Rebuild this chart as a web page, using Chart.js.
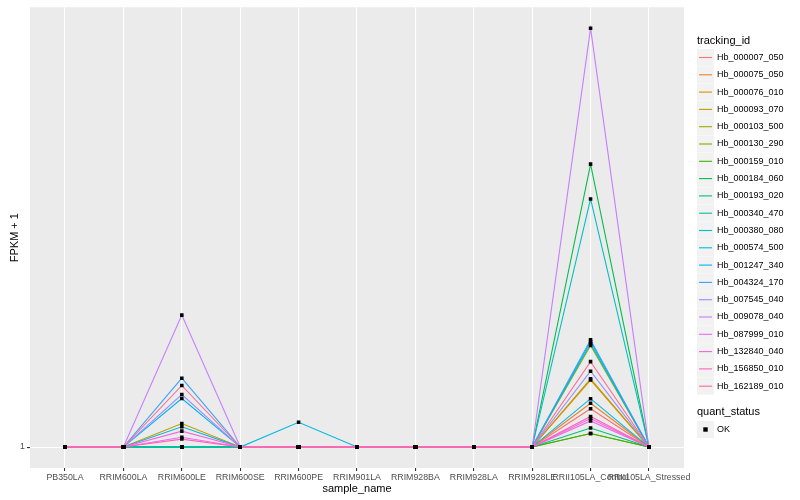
<!DOCTYPE html>
<html>
<head>
<meta charset="utf-8">
<script src="https://cdn.jsdelivr.net/npm/chart.js@4"></script>
<style>
  html, body { margin: 0; padding: 0; background: #fff; }
  #wrap { width: 800px; height: 500px; }
</style>
</head>
<body>
<div id="wrap"><canvas id="chart"></canvas></div>
<script>
// categorias do eixo x
const sampleNames = ["PB350LA", "RRIM600LA", "RRIM600LE", "RRIM600SE", "RRIM600PE", "RRIM901LA",
  "RRIM928BA", "RRIM928LA", "RRIM928LE", "RRII105LA_Control", "RRII105LA_Stressed"];

const trackingIds = ["Hb_000007_050", "Hb_000075_050", "Hb_000076_010", "Hb_000093_070", "Hb_000103_500",
  "Hb_000130_290", "Hb_000159_010", "Hb_000184_060", "Hb_000193_020", "Hb_000340_470",
  "Hb_000380_080", "Hb_000574_500", "Hb_001247_340", "Hb_004324_170", "Hb_007545_040",
  "Hb_009078_040", "Hb_087999_010", "Hb_132840_040", "Hb_156850_010", "Hb_162189_010"];

const hueColors = ["#F8766D", "#EA8331", "#D89000", "#C09B00", "#A3A500", "#7CAE00", "#39B600", "#00BB4E",
  "#00BF7D", "#00C1A3", "#00BFC4", "#00BAE0", "#00B0F6", "#35A2FF", "#9590FF", "#C77CFF",
  "#E76BF3", "#FA62DB", "#FF62BC", "#FF6C91"];

// FPKM + 1 por gene (valores estimados da figura)
const hb000007 = [1, 1, 1, 1, 1, 1, 1, 1, 1, 19.3, 1];
const hb000075 = [1, 1, 1, 1, 1, 1, 1, 1, 1, 21.9, 1];
const hb000076 = [1, 1, 1, 1, 1, 1, 1, 1, 1, 33.0, 1];
const hb000093 = [1, 1, 12.2, 1, 1, 1, 1, 1, 1, 33.6, 1];
const hb000103 = [1, 1, 1, 1, 1, 1, 1, 1, 1, 49.5, 1];
const hb000130 = [1, 1, 1, 1, 1, 1, 1, 1, 1, 7.5, 1];
const hb000159 = [1, 1, 1, 1, 1, 1, 1, 1, 1, 7.5, 1];
const hb000184 = [1, 1, 1, 1, 1, 1, 1, 1, 1, 136.1, 1];
const hb000193 = [1, 1, 1, 1, 1, 1, 1, 1, 1, 10.1, 1];
const hb000340 = [1, 1, 1, 1, 1, 1, 1, 1, 1, 50.3, 1];
const hb000380 = [1, 1, 1, 1, 1, 1, 1, 1, 1, 119.5, 1];
const hb000574 = [1, 1, 10.7, 1, 12.8, 1, 1, 1, 1, 24.1, 1];
const hb001247 = [1, 1, 24.2, 1, 1, 1, 1, 1, 1, 51.4, 1];
const hb004324 = [1, 1, 33.9, 1, 1, 1, 1, 1, 1, 52.2, 1];
const hb007545 = [1, 1, 26.1, 1, 1, 1, 1, 1, 1, 37.2, 1];
const hb009078 = [1, 1, 64.0, 1, 1, 1, 1, 1, 1, 201, 1];
const hb087999 = [1, 1, 5.7, 1, 1, 1, 1, 1, 1, 13.5, 1];
const hb132840 = [1, 1, 8.6, 1, 1, 1, 1, 1, 1, 14.6, 1];
const hb156850 = [1, 1, 4.8, 1, 1, 1, 1, 1, 1, 15.6, 1];
const hb162189 = [1, 1, 30.4, 1, 1, 1, 1, 1, 1, 41.8, 1];

const seriesValues = [hb000007, hb000075, hb000076, hb000093, hb000103, hb000130, hb000159, hb000184,
  hb000193, hb000340, hb000380, hb000574, hb001247, hb004324, hb007545, hb009078, hb087999,
  hb132840, hb156850, hb162189];

const yTicks = [1];

const FONT = "'Liberation Sans', Arial, sans-serif";

const lineSets = trackingIds.map((id, i) => ({
  type: 'line',
  label: id,
  data: seriesValues[i].map((v, j) => ({ x: j, y: v })),
  borderColor: hueColors[i],
  borderWidth: 1.1,
  pointRadius: 0,
  fill: false,
  tension: 0,
  order: trackingIds.length - i + 1,
}));

// pontos pretos por cima de todas as linhas
const pointSet = {
  type: 'scatter',
  label: 'OK',
  data: seriesValues.flatMap(vals => vals.map((v, j) => ({ x: j, y: v }))),
  backgroundColor: '#000',
  borderColor: '#000',
  pointStyle: 'rect',
  pointRadius: 2.5,
  borderWidth: 0,
  order: 0,
};

const panelBg = {
  id: 'panelBg',
  beforeDraw(chart) {
    const { ctx, chartArea: a } = chart;
    ctx.save();
    ctx.fillStyle = '#EBEBEB';
    ctx.fillRect(a.left, a.top, a.right - a.left, a.bottom - a.top);
    ctx.restore();
  }
};

// legenda no estilo ggplot
const ggLegend = {
  id: 'ggLegend',
  afterDraw(chart) {
    const ctx = chart.ctx;
    const x0 = 697, step = 17.3;
    ctx.save();
    ctx.textBaseline = 'middle';
    ctx.fillStyle = '#000';
    ctx.font = '11px ' + FONT;
    ctx.fillText('tracking_id', x0, 40.5);
    ctx.font = '9px ' + FONT;
    trackingIds.forEach((id, i) => {
      const y = 49 + i * step;
      ctx.fillStyle = '#F2F2F2';
      ctx.fillRect(x0, y, 17, 17);
      ctx.strokeStyle = hueColors[i];
      ctx.lineWidth = 1.1;
      ctx.beginPath();
      ctx.moveTo(x0 + 2, y + 8.5);
      ctx.lineTo(x0 + 15, y + 8.5);
      ctx.stroke();
      ctx.fillStyle = '#000';
      ctx.fillText(id, 717, y + 8.5);
    });
    ctx.font = '11px ' + FONT;
    ctx.fillText('quant_status', x0, 412);
    ctx.fillStyle = '#F2F2F2';
    ctx.fillRect(x0, 421, 17, 17);
    ctx.fillStyle = '#000';
    ctx.fillRect(x0 + 6.3, 427.3, 4.4, 4.4);
    ctx.font = '9px ' + FONT;
    ctx.fillText('OK', 717, 429.5);
    ctx.restore();
  }
};

const chart = new Chart(document.getElementById('chart'), {
  data: { datasets: [...lineSets, pointSet] },
  options: {
    responsive: true,
    maintainAspectRatio: false,
    animation: false,
    events: [],
    layout: { padding: { top: 3, right: 116, left: 0, bottom: 0 } },
    plugins: { legend: { display: false }, tooltip: { enabled: false } },
    scales: {
      x: {
        type: 'linear',
        min: -0.6,
        max: 10.6,
        afterBuildTicks: s => { s.ticks = sampleNames.map((_, i) => ({ value: i })); },
        afterFit: s => { s.height = 32; },
        grid: { color: '#FFFFFF', lineWidth: 1.1, tickColor: '#333333', tickLength: 3, drawOnChartArea: true },
        border: { display: false },
        ticks: {
          autoSkip: false,
          maxRotation: 0,
          padding: 1,
          color: '#4D4D4D',
          font: { family: FONT, size: 8.8 },
          callback: v => sampleNames[v] ?? ''
        },
        title: { display: true, text: 'sample_name', color: '#000', font: { family: FONT, size: 11 }, padding: { top: 0, bottom: 4 } }
      },
      y: {
        type: 'linear',
        min: -9,
        max: 211,
        afterBuildTicks: s => { s.ticks = yTicks.map(v => ({ value: v })); },
        afterFit: s => { s.width = 30; },
        grid: { color: '#FFFFFF', lineWidth: 1.1, tickColor: '#333333', tickLength: 3 },
        border: { display: false },
        ticks: { padding: 2, color: '#4D4D4D', font: { family: FONT, size: 8.8 } },
        title: { display: true, text: 'FPKM + 1', color: '#000', font: { family: FONT, size: 11 }, padding: { top: 8, bottom: 0 } }
      }
    }
  },
  plugins: [panelBg, ggLegend]
});
</script>
</body>
</html>
